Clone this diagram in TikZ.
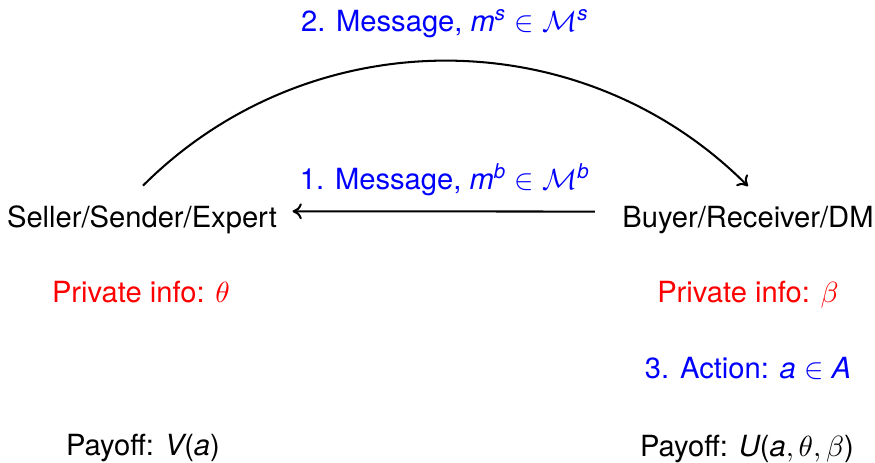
\documentclass[tikz,border=0pt]{standalone}
\usepackage{amsmath}
\usepackage{fontspec}
\setmainfont{TeX Gyre Heros}
\usetikzlibrary{arrows.meta}
\newcommand{\mv}[1]{\text{\itshape #1}}
\newcommand{\lpar}{\mathopen{\text{(}}}
\newcommand{\rpar}{\mathclose{\text{)}}}
\begin{document}
\begin{tikzpicture}[x=0.343pt,y=-0.343pt,
  lab/.style={font=\fontsize{10}{12}\selectfont,inner sep=0pt,anchor=base},
  conn/.style={line width=0.7pt,-{To[length=3.2pt,width=5.5pt]}}]
\useasboundingbox (0,0) rectangle (875,462);
\node[lab] (seller) at (142,227) {Seller/Sender/Expert};
\node[lab] (buyer) at (748,227) {Buyer/Receiver/DM};
\node[lab,blue] (msg2) at (445,31) {2. Message, $\mv{m}^{\mv{s}}\in\mathcal{M}^{\mv{s}}$};
\node[lab,blue] (msg1) at (445,189) {1. Message, $\mv{m}^{\mv{b}}\in\mathcal{M}^{\mv{b}}$};
\node[lab,red] (privS) at (141,302) {Private info: $\theta$};
\node[lab,red] (privB) at (748,302) {Private info: $\beta$};
\node[lab,blue] (act) at (748,378) {3. Action: $\mv{a}\in\mv{A}$};
\node[lab] (payS) at (143,455) {Payoff: $\mv{V}\lpar\mv{a}\rpar$};
\node[lab] (payB) at (747,456) {Payoff: $\mv{U}\lpar\mv{a},\theta,\beta\rpar$};
\draw[conn] ([shift={(1,-19)}]seller.north) to[bend left=45] ([shift={(0,-19)}]buyer.north);
\draw[conn] ([shift={(-27,-8)}]buyer.west) -- ([shift={(15,-8)}]seller.east);
\end{tikzpicture}
\end{document}
